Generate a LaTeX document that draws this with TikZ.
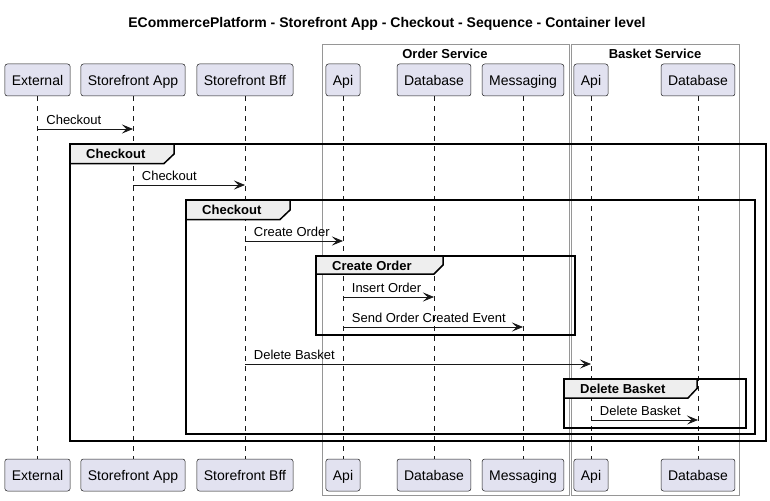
\documentclass[tikz,border=0pt]{standalone}
\usepackage{fontspec}
\setmainfont{Liberation Sans}
\usepackage{tikz}
\usetikzlibrary{arrows.meta}
\definecolor{lavender}{RGB}{226, 226, 240}
\definecolor{dgray}{RGB}{24, 24, 24}
\definecolor{tabgray}{RGB}{238, 238, 238}
\definecolor{boxline}{RGB}{150, 150, 150}

\begin{document}
\begin{tikzpicture}[x = 1pt, y = -1pt,
	actor/.style = {draw = dgray, line width = 0.5pt, fill = lavender, rounded corners = 2.5pt, minimum height = 32pt, inner xsep = 7pt, text height = 11pt, text depth = 0pt, font = \fontsize{14}{16}\selectfont},
	life/.style = {draw = dgray, line width = 0.5pt, dash pattern = on 5pt off 5pt},
	msg/.style = {draw = dgray, line width = 0.8pt, -{Stealth[length = 11pt, width = 9pt, inset = 4.5pt]}},
	lbl/.style = {anchor = base west, inner sep = 0pt, xshift = 8.5pt, yshift = 4.5pt, font = \fontsize{13}{15}\selectfont},
	frame/.style = {draw = black, line width = 1.5pt},
	tab/.style = {fill = tabgray, draw = black, line width = 1.5pt},
	tablbl/.style = {anchor = west, inner sep = 0pt, font = \bfseries\fontsize{13}{15}\selectfont},
	svc/.style = {draw = boxline, line width = 0.8pt},
	svclbl/.style = {inner sep = 0pt, font = \bfseries\fontsize{13}{15}\selectfont}]
			\useasboundingbox (0,0) rectangle (770,500);
			\node (title) at (387,24) [inner sep = 0pt, font = \bfseries\fontsize{14}{16}\selectfont] {ECommercePlatform - Storefront App - Checkout - Sequence - Container level};
			\draw[svc] (322,44) rectangle (569,495);
			\draw[svc] (571,44) rectangle (739,495);
			\node (order) at (445,54) [svclbl] {Order Service};
			\node (basket) at (655,54) [svclbl] {Basket Service};
			\node (ext) at (37.5,80) [actor] {External};
			\node (app) at (133,80) [actor] {Storefront App};
			\node (bff) at (245,80) [actor] {Storefront Bff};
			\node (oapi) at (343,80) [actor] {Api};
			\node (odb) at (434,80) [actor] {Database};
			\node (omsg) at (523,80) [actor] {Messaging};
			\node (bapi) at (591,80) [actor] {Api};
			\node (bdb) at (698,80) [actor] {Database};
			\node (ext2) at (37.5,475) [actor] {External};
			\node (app2) at (133,475) [actor] {Storefront App};
			\node (bff2) at (245,475) [actor] {Storefront Bff};
			\node (oapi2) at (343,475) [actor] {Api};
			\node (odb2) at (434,475) [actor] {Database};
			\node (omsg2) at (523,475) [actor] {Messaging};
			\node (bapi2) at (591,475) [actor] {Api};
			\node (bdb2) at (698,475) [actor] {Database};
			\draw[life] (ext) -- (ext2);
			\draw[life] (app) -- (app2);
			\draw[life] (bff) -- (bff2);
			\draw[life] (oapi) -- (oapi2);
			\draw[life] (odb) -- (odb2);
			\draw[life] (omsg) -- (omsg2);
			\draw[life] (bapi) -- (bapi2);
			\draw[life] (bdb) -- (bdb2);
			\draw[frame] (70,144) rectangle (766,441);
			\draw[tab] (70,144) -- (174,144) -- (174,154) -- (164,163.5) -- (70,163.5) -- cycle;
			\node (g1) at (86,154) [tablbl] {Checkout};
			\draw[frame] (186,200) rectangle (755,434);
			\draw[tab] (186,200) -- (290,200) -- (290,210) -- (280,219.5) -- (186,219.5) -- cycle;
			\node (g2) at (202,210) [tablbl] {Checkout};
			\draw[frame] (316,256) rectangle (575,335);
			\draw[tab] (316,256) -- (443,256) -- (443,265) -- (434,274) -- (316,274) -- cycle;
			\node (g3) at (332,265.5) [tablbl] {Create Order};
			\draw[frame] (564,379) rectangle (746,428);
			\draw[tab] (564,379) -- (697,379) -- (697,388.5) -- (688,398) -- (564,398) -- cycle;
			\node (g4) at (580,388.5) [tablbl] {Delete Basket};
			\coordinate (r1) at (0,129);
			\coordinate (r2) at (0,185);
			\coordinate (r3) at (0,241);
			\coordinate (r4) at (0,297);
			\coordinate (r5) at (0,327);
			\coordinate (r6) at (0,364);
			\coordinate (r7) at (0,420);
			\draw[msg] (ext |- r1) -- node[lbl, pos = 0] {Checkout} (app |- r1);
			\draw[msg] (app |- r2) -- node[lbl, pos = 0] {Checkout} (bff |- r2);
			\draw[msg] (bff |- r3) -- node[lbl, pos = 0] {Create Order} (oapi |- r3);
			\draw[msg] (oapi |- r4) -- node[lbl, pos = 0] {Insert Order} (odb |- r4);
			\draw[msg] (oapi |- r5) -- node[lbl, pos = 0] {Send Order Created Event} (omsg |- r5);
			\draw[msg] (bff |- r6) -- node[lbl, pos = 0] {Delete Basket} (bapi |- r6);
			\draw[msg] (bapi |- r7) -- node[lbl, pos = 0] {Delete Basket} (bdb |- r7);
			\end{tikzpicture}
\end{document}
